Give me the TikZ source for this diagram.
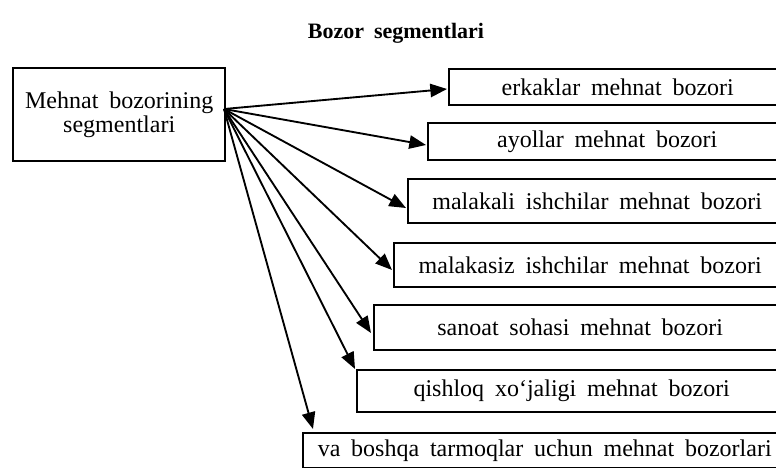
\documentclass[tikz,border=0pt]{standalone}
\usepackage{fontspec}
\setmainfont{Liberation Serif}[WordSpace=1.8]
\usetikzlibrary{arrows.meta}
\def\px{0.75pt}
\tikzset{
  segbox/.style={draw=black, line width=1.8pt, inner sep=0pt, anchor=north west,
    font=\fontsize{18}{17.5}\selectfont, align=center},
  arr/.style={line width=1.4pt, -{Triangle[length=12.5pt,width=10pt]}},
}
\begin{document}
\begin{tikzpicture}[x=0.75pt,y=-0.75pt]
\useasboundingbox (0,0) rectangle (776,468);
\node[font=\bfseries\fontsize{16.5}{19}\selectfont] (title) at (396,33) {Bozor segmentlari};
\node[segbox, minimum width={212*\px}, minimum height={93*\px}] (m) at (12,67) {Mehnat bozorining\\segmentlari};
\node[segbox, minimum width={337*\px}, minimum height={36*\px}] (b1) at (448,68) {erkaklar mehnat bozori};
\node[segbox, minimum width={358*\px}, minimum height={37*\px}] (b2) at (427,122) {ayollar mehnat bozori};
\node[segbox, minimum width={378*\px}, minimum height={44*\px}] (b3) at (407,178) {malakali ishchilar mehnat bozori};
\node[segbox, minimum width={392*\px}, minimum height={44*\px}] (b4) at (393,242) {malakasiz ishchilar mehnat bozori};
\node[segbox, minimum width={412*\px}, minimum height={45*\px}] (b5) at (373,304) {sanoat sohasi mehnat bozori};
\node[segbox, minimum width={429*\px}, minimum height={42*\px}] (b6) at (356,369) {qishloq xo‘jaligi mehnat bozori};
\node[segbox, minimum width={483*\px}, minimum height={35*\px}] (b7) at (302,432) {va boshqa tarmoqlar uchun mehnat bozorlari};
\coordinate (src) at (224,109);
\coordinate (t1) at (447,89);
\coordinate (t2) at (426,145);
\coordinate (t3) at (406,208);
\coordinate (t4) at (392,270);
\coordinate (t5) at (371,333);
\coordinate (t6) at (355,369);
\coordinate (t7) at (313,429);
\foreach \t in {t1,t2,t3,t4,t5,t6,t7} \draw[arr] (src) -- (\t);
\end{tikzpicture}
\end{document}
